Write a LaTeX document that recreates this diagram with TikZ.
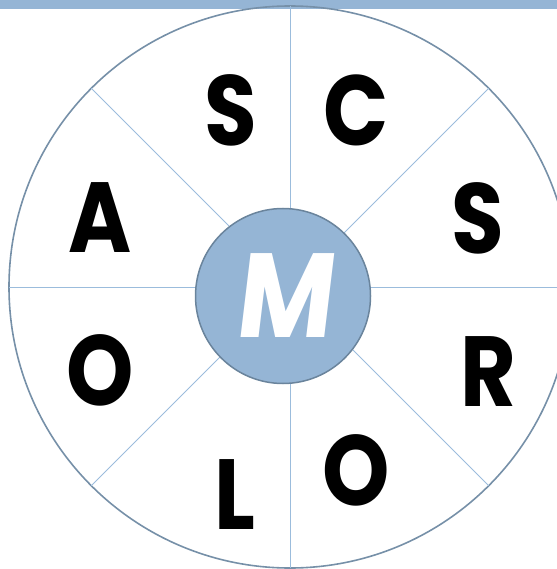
\documentclass[tikz,border=0pt]{standalone}
\usepackage{fontspec}
\newfontfamily\wheelfont{Poppins}[FakeSlant=0.12, FakeStretch=0.88]
\newfontfamily\wheelfontup{Poppins}[FakeStretch=0.86]

\definecolor{bandblue}{RGB}{149,181,213}
\definecolor{rimgray}{RGB}{118,144,168}
\definecolor{spokeblue}{RGB}{155,188,220}
\definecolor{hubfill}{RGB}{149,181,213}
\definecolor{hubedge}{RGB}{106,132,156}

\begin{document}
\begin{tikzpicture}[x=1bp, y=-1bp,
    rim/.style={draw=rimgray, line width=1.6bp},
    spoke/.style={draw=spokeblue, line width=0.9bp},
    hub/.style={circle, fill=hubfill, draw=hubedge, line width=1.5bp,
        minimum size=175bp, inner sep=0pt, text=white,
        font=\wheelfont\bfseries\fontsize{120}{120}\selectfont},
    letter/.style={inner sep=0pt, text=black,
        font=\wheelfontup\bfseries\fontsize{100}{100}\selectfont}]

    \useasboundingbox (0,0) rectangle (557,569);
    \clip (0,0) rectangle (557,569);

    % top band
    \fill[bandblue] (0,0) rectangle (557,9);

    % outer wheel and spokes
    \coordinate (centre) at (290,287);
    \draw[rim] (centre) circle (281bp);
    \foreach \a in {0,45,...,315} {
        \draw[spoke] (centre) -- ++(\a:281bp);
    }

    % hub
    \node[hub] (mid) at (283,296) {M};

    % letters round the wheel
    \node[letter] (s1) at (231,110) {S};
    \node[letter] (c1) at (356,110) {C};
    \node[letter] (s2) at (478,218) {S};
    \node[letter] (r1) at (488,372) {R};
    \node[letter] (o1) at (356,470) {O};
    \node[letter] (l1) at (235,495) {L};
    \node[letter] (o2) at (100,370) {O};
    \node[letter] (a1) at (100,218) {A};
\end{tikzpicture}
\end{document}
